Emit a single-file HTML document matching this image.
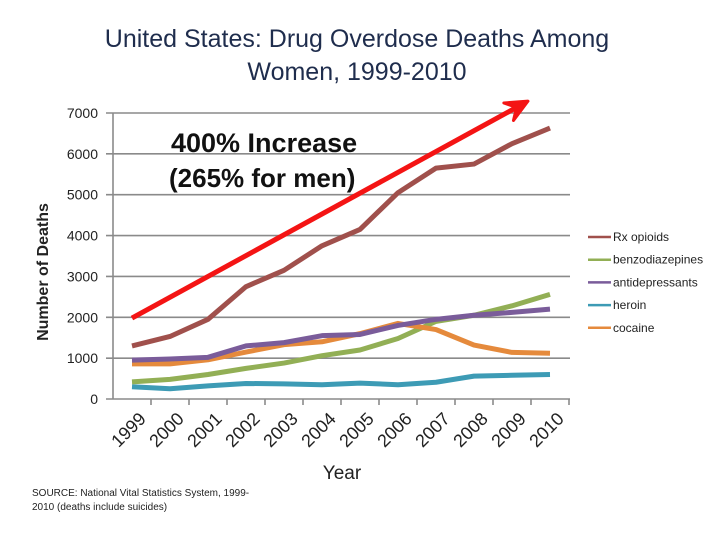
<!DOCTYPE html>
<html><head><meta charset="utf-8"><style>
body{margin:0;background:#fff;}
svg text{font-family:"Liberation Sans",sans-serif;}
</style></head><body>
<svg id="c" width="720" height="540" xmlns="http://www.w3.org/2000/svg">
<text x="357" y="47" font-size="25" text-anchor="middle" fill="#1f2d4d">United States: Drug Overdose Deaths Among</text>
<text x="357" y="80" font-size="25" text-anchor="middle" fill="#1f2d4d">Women, 1999-2010</text>
<g id="axes"></g>
<text x="171" y="152" font-size="27" font-weight="bold" fill="#111">400% Increase</text>
<text x="169" y="187" font-size="26" font-weight="bold" fill="#111">(265% for men)</text>
<g id="series"></g>
<text x="342" y="479" font-size="19" text-anchor="middle" fill="#222">Year</text>
<text transform="translate(48,272) rotate(-90)" font-size="16" font-weight="bold" text-anchor="middle" fill="#222">Number of Deaths</text>
<text x="32" y="496" font-size="10" fill="#222">SOURCE: National Vital Statistics System, 1999-</text>
<text x="32" y="510" font-size="10" fill="#222">2010 (deaths include suicides)</text>
<g id="legend"></g>
</svg>
<script>
const years = ["1999","2000","2001","2002","2003","2004","2005","2006","2007","2008","2009","2010"];
const yTicks = [0,1000,2000,3000,4000,5000,6000,7000];
const rxOpioids = [1300,1530,1950,2750,3150,3750,4150,5050,5650,5750,6250,6630];
const benzodiazepines = [420,480,600,750,880,1060,1200,1480,1900,2050,2280,2560];
const antidepressants = [950,980,1020,1300,1380,1550,1580,1800,1950,2050,2120,2200];
const heroin = [300,250,320,380,370,350,390,350,410,560,580,600];
const cocaine = [860,860,960,1150,1330,1400,1600,1850,1700,1320,1140,1120];
const trendStart = [1999,1980];
const trendEnd = [2009.42,7290];

const NS="http://www.w3.org/2000/svg";
const x0=113, step=38, yBase=399, yTop=113;
const xIdx=i=>x0+step*(i+0.5);
const xYear=yr=>xIdx(yr-1999);
const y=v=>yBase-(v/7000)*(yBase-yTop);
function mk(tag,attrs,parent){const e=document.createElementNS(NS,tag);for(const k in attrs)e.setAttribute(k,attrs[k]);parent.appendChild(e);return e;}
const axes=document.getElementById('axes');
yTicks.forEach(t=>{
  const tx=mk('text',{x:98,y:y(t)+5,'font-size':14,'text-anchor':'end',fill:'#222'},axes);
  tx.textContent=t;
  
  
  const tk=mk('line',{x1:106,x2:570,y1:y(t),y2:y(t),stroke:'#8a8a8a','stroke-width':1.6},axes);
  
  
});
const ya=mk('line',{x1:113,x2:113,y1:yTop,y2:yBase,stroke:'#8a8a8a','stroke-width':1.6},axes);


years.forEach((yr,i)=>{
  const tk=mk('line',{x1:x0+step*(i+1),x2:x0+step*(i+1),y1:yBase,y2:yBase+6,stroke:'#8a8a8a','stroke-width':1.6},axes);
  
  
  const cx=xIdx(i)+6, cy=yBase+12;
  const tx=mk('text',{x:cx,y:cy,'font-size':18,'text-anchor':'end',fill:'#222',transform:`rotate(-45 ${cx} ${cy})`,dy:'0.7em'},axes);
  tx.textContent=yr;
  
  
});
const ser=[["rx-opioids","Rx opioids",rxOpioids,"#a0504c"],["benzodiazepines","benzodiazepines",benzodiazepines,"#92af55"],["antidepressants","antidepressants",antidepressants,"#7a5c9a"],["heroin","heroin",heroin,"#3d9bb5"],["cocaine","cocaine",cocaine,"#e58a3c"]];
const sg=document.getElementById('series');
const order=[3,1,4,2,0];
order.forEach(k=>{const s=ser[k];
  const p=mk('polyline',{points:s[2].map((v,i)=>xIdx(i)+','+y(v)).join(' '),fill:'none',stroke:s[3],'stroke-width':5,'stroke-linejoin':'round'},sg);
  
  
});
const ax1=xYear(trendStart[0]),ay1=y(trendStart[1]),ax2=xYear(trendEnd[0]),ay2=y(trendEnd[1]);
const ang=Math.atan2(ay2-ay1,ax2-ax1);
const tl=mk('line',{x1:ax1,y1:ay1,x2:ax2-4*Math.cos(ang),y2:ay2-4*Math.sin(ang),stroke:'#f41414','stroke-width':5},sg);


const L=22,W=10;
const bx=ax2-L*Math.cos(ang),by=ay2-L*Math.sin(ang);
const ah=mk('polygon',{points:`${ax2},${ay2} ${bx+W*Math.sin(ang)},${by-W*Math.cos(ang)} ${ax2-13*Math.cos(ang)},${ay2-13*Math.sin(ang)} ${bx-W*Math.sin(ang)},${by+W*Math.cos(ang)}`,fill:'#f41414',stroke:'#f41414','stroke-width':3,'stroke-linejoin':'round'},sg);


const lg=document.getElementById('legend');
ser.forEach((s,i)=>{const ly=237+i*22.7;
  const l=mk('line',{x1:588,x2:611,y1:ly,y2:ly,stroke:s[3],'stroke-width':2.5},lg);
  
  
  const t=mk('text',{x:613,y:ly+4,'font-size':12,fill:'#222'},lg);
  t.textContent=s[1];
  
  
});
</script>
</body></html>
